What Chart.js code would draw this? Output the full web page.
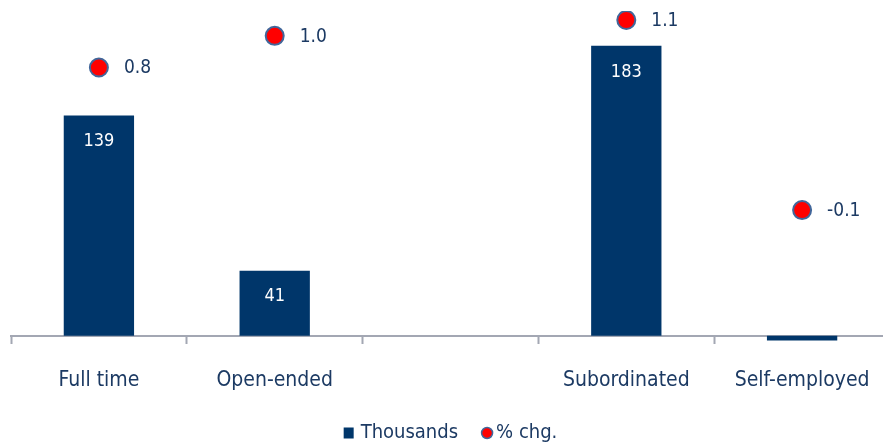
<!DOCTYPE html>
<html>
<head>
<meta charset="utf-8">
<script src="https://cdn.jsdelivr.net/npm/chart.js@4/dist/chart.umd.min.js"></script>
<style>
  html, body { margin: 0; padding: 0; background: #fff; }
  #wrap { width: 883px; height: 445px; overflow: hidden; }
</style>
</head>
<body>
<div id="wrap"><canvas id="jobsChart" width="901" height="445"></canvas></div>
<script>
const categories = ['Full time', 'Open-ended', '', 'Subordinated', 'Self-employed'];
const thousands = [139, 41, null, 183, -3];
const pctChg = [0.8, 1.0, null, 1.1, -0.1];
const seriesNames = ['Thousands', '% chg.'];

const navy = '#00366a';
const dotRed = '#ff0000';
const dotEdge = '#41669a';
const labelColor = '#1c3a63';
const axisFont = "'DejaVu Sans Condensed', 'DejaVu Sans', sans-serif";

// value labels: white inside bars, navy to the right of the dots
const valueLabels = {
  id: 'valueLabels',
  afterDatasetsDraw(chart) {
    const ctx = chart.ctx;
    ctx.save();
    ctx.textBaseline = 'middle';
    chart.getDatasetMeta(0).data.forEach((bar, i) => {
      const v = thousands[i];
      if (v == null || v <= 0) return;
      ctx.fillStyle = '#ffffff';
      ctx.font = '18px ' + axisFont;
      ctx.textAlign = 'center';
      ctx.fillText(String(v), bar.x, bar.y + 26);
    });
    chart.getDatasetMeta(1).data.forEach((pt, i) => {
      const v = pctChg[i];
      if (v == null) return;
      ctx.fillStyle = labelColor;
      ctx.font = '19px ' + axisFont;
      ctx.textAlign = 'left';
      ctx.fillText(v.toFixed(1), pt.x + 25, pt.y + 1);
    });
    ctx.restore();
  }
};

// compact legend under the axis: small square and small dot
const smallLegend = {
  id: 'smallLegend',
  afterDraw(chart) {
    const ctx = chart.ctx;
    const area = chart.chartArea;
    ctx.save();
    ctx.font = '20px ' + axisFont;
    ctx.textBaseline = 'middle';
    ctx.textAlign = 'left';
    const w1 = ctx.measureText(seriesNames[0]).width;
    const w2 = ctx.measureText(seriesNames[1]).width;
    const total = 10 + 7 + w1 + 23 + 12 + 3 + w2;
    let x = (area.left + area.right) / 2 - total / 2;
    const y = 433;
    ctx.fillStyle = navy;
    ctx.fillRect(x, y - 5.5, 10, 11);
    x += 17;
    ctx.fillStyle = labelColor;
    ctx.fillText(seriesNames[0], x, y);
    x += w1 + 23;
    ctx.beginPath();
    ctx.arc(x + 6, y, 5.5, 0, Math.PI * 2);
    ctx.fillStyle = dotRed;
    ctx.fill();
    ctx.lineWidth = 1.5;
    ctx.strokeStyle = dotEdge;
    ctx.stroke();
    x += 15;
    ctx.fillStyle = labelColor;
    ctx.fillText(seriesNames[1], x, y);
    ctx.restore();
  }
};

new Chart(document.getElementById('jobsChart'), {
  type: 'bar',
  data: {
    labels: categories,
    datasets: [
      {
        label: seriesNames[0],
        data: thousands,
        backgroundColor: navy,
        barPercentage: 1,
        categoryPercentage: 0.4,
        yAxisID: 'y',
        order: 2
      },
      {
        type: 'line',
        label: seriesNames[1],
        data: pctChg,
        showLine: false,
        pointRadius: 9,
        pointHoverRadius: 9,
        pointBorderWidth: 2,
        pointBackgroundColor: dotRed,
        pointBorderColor: dotEdge,
        backgroundColor: dotRed,
        borderColor: dotEdge,
        yAxisID: 'y2',
        order: 1
      }
    ]
  },
  options: {
    responsive: false,
    animation: false,
    layout: { padding: { left: 10, right: 0, top: 0, bottom: 42 } },
    plugins: {
      legend: { display: false },
      tooltip: { enabled: false }
    },
    scales: {
      x: {
        position: { y: 0 },
        offset: true,
        border: { color: '#a3a7b3', width: 2 },
        grid: { offset: true, drawOnChartArea: false, tickLength: 7, color: '#a3a7b3', tickWidth: 2 },
        ticks: { color: labelColor, font: { family: axisFont, size: 21 }, padding: 25 }
      },
      y: {
        display: false,
        min: -42.5,
        max: 205
      },
      y2: {
        display: false,
        min: -1.318,
        max: 1.157
      }
    }
  },
  plugins: [valueLabels, smallLegend]
});
</script>
</body>
</html>
